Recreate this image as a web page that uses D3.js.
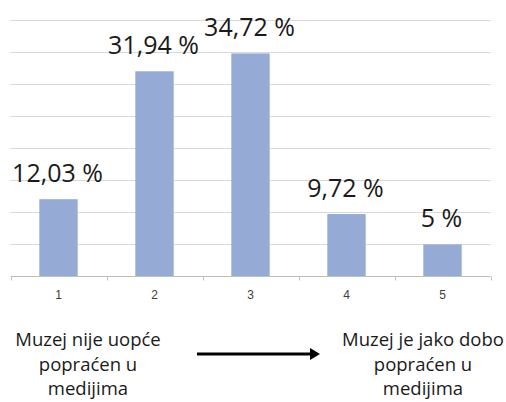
<!DOCTYPE html>
<html>
<head>
<meta charset="utf-8">
<script src="https://cdn.jsdelivr.net/npm/d3@7"></script>
<style>
  html, body { margin: 0; padding: 0; background: #fff; }
  svg { display: block; }
</style>
</head>
<body>
<div id="app"></div>
<script>
// Category labels on the x axis and the share (in %) for each one.
const categories = ['1', '2', '3', '4', '5'];
const shares = [12.03, 31.94, 34.72, 9.72, 5];
const valueLabels = ['12,03 %', '31,94 %', '34,72 %', '9,72 %', '5 %'];
const gridTicks = [0, 5, 10, 15, 20, 25, 30, 35, 40];

// Captions under the chart (scale ends).
const leftCaption = ['Muzej nije uopće', 'popraćen u', 'medijima'];
const rightCaption = ['Muzej je jako dobo', 'popraćen u', 'medijima'];

const svgWidth = 506;
const svgHeight = 402;
const plot = { left: 10.5, right: 490.5, top: 19.5, bottom: 276.5 };

const svg = d3.select('#app')
  .append('svg')
  .attr('width', svgWidth)
  .attr('height', svgHeight);

const x = d3.scaleBand()
  .domain(categories)
  .range([plot.left, plot.right])
  .paddingInner(0.6)
  .paddingOuter(0.3);

const y = d3.scaleLinear().domain([0, 40]).range([plot.bottom, plot.top]);

// Horizontal gridlines every 5 %.
svg.append('g')
  .selectAll('line')
  .data(gridTicks.slice(1))
  .join('line')
  .attr('x1', plot.left)
  .attr('x2', plot.right)
  .attr('y1', (d) => Math.round(y(d)) + 0.5)
  .attr('y2', (d) => Math.round(y(d)) + 0.5)
  .attr('stroke', '#d9d9d9')
  .attr('stroke-width', 1);

// Bars.
svg.append('g')
  .selectAll('rect')
  .data(shares)
  .join('rect')
  .attr('x', (_, i) => x(categories[i]))
  .attr('width', x.bandwidth())
  .attr('y', (d) => y(d))
  .attr('height', (d) => y(0) - y(d))
  .attr('fill', '#95abd6');

// Bottom axis: line, ticks at category boundaries, centered labels.
const boundaries = d3.range(categories.length + 1).map((i) => plot.left + i * (plot.right - plot.left) / categories.length);
const axis = svg.append('g');
axis.append('line')
  .attr('x1', plot.left).attr('x2', plot.right)
  .attr('y1', plot.bottom).attr('y2', plot.bottom)
  .attr('stroke', '#bfbfbf');
axis.selectAll('.tick')
  .data(boundaries)
  .join('line')
  .attr('class', 'tick')
  .attr('x1', (d) => Math.round(d) + 0.5).attr('x2', (d) => Math.round(d) + 0.5)
  .attr('y1', plot.bottom).attr('y2', plot.bottom + 4)
  .attr('stroke', '#bfbfbf');
axis.selectAll('text')
  .data(categories)
  .join('text')
  .attr('x', (d) => x(d) + x.bandwidth() / 2)
  .attr('y', plot.bottom + 22)
  .attr('text-anchor', 'middle')
  .attr('font-family', '"Liberation Sans", Arial, sans-serif')
  .attr('font-size', 12)
  .attr('fill', '#404040')
  .text((d) => d);

// Value labels above bars.
svg.append('g')
  .selectAll('text')
  .data(shares)
  .join('text')
  .attr('x', (_, i) => x(categories[i]) + x.bandwidth() / 2 - 1)
  .attr('y', (d) => y(d) - 17)
  .attr('text-anchor', 'middle')
  .attr('font-family', '"Open Sans", "Noto Sans", sans-serif')
  .attr('font-size', 25)
  .attr('fill', '#1a1a1a')
  .text((_, i) => valueLabels[i]);

// Captions.
function caption(lines, cx) {
  svg.append('text')
    .attr('text-anchor', 'middle')
    .attr('font-family', '"Open Sans", "Noto Sans", sans-serif')
    .attr('font-size', 18.5)
    .attr('fill', '#1a1a1a')
    .selectAll('tspan')
    .data(lines)
    .join('tspan')
    .attr('x', cx)
    .attr('y', (_, i) => 346 + i * 24.5)
    .text((d) => d);
}
caption(leftCaption, 88);
caption(rightCaption, 423);

// Arrow between captions.
svg.append('defs')
  .append('marker')
  .attr('id', 'head')
  .attr('viewBox', '0 0 10 12')
  .attr('refX', 0).attr('refY', 6)
  .attr('markerWidth', 10).attr('markerHeight', 12)
  .attr('markerUnits', 'userSpaceOnUse')
  .attr('orient', 'auto')
  .append('path')
  .attr('d', 'M0,0 L10,6 L0,12 Z')
  .attr('fill', '#000');
svg.append('line')
  .attr('x1', 197).attr('x2', 310)
  .attr('y1', 354).attr('y2', 354)
  .attr('stroke', '#000')
  .attr('stroke-width', 3)
  .attr('marker-end', 'url(#head)');
</script>
</body>
</html>
